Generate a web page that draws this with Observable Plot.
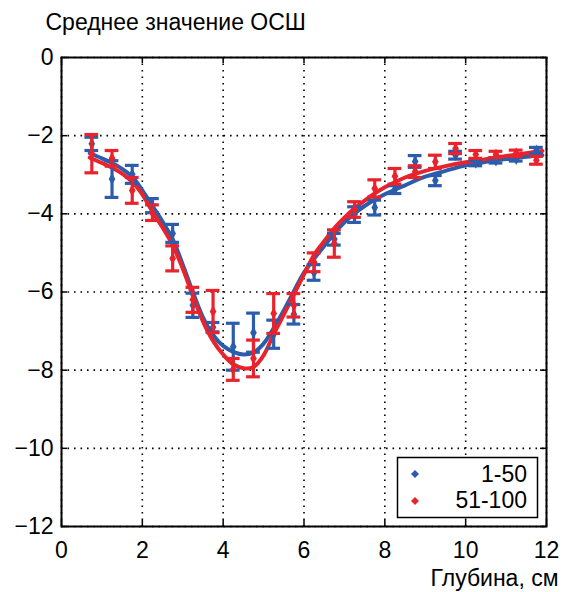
<!DOCTYPE html>
<html><head><meta charset="utf-8">
<script src="https://cdn.jsdelivr.net/npm/d3@7"></script>
<script src="https://cdn.jsdelivr.net/npm/@observablehq/plot@0.6"></script>
<style>
body{margin:0;background:#fff;}
#wrap{position:relative;width:563px;height:592px;font-family:"Liberation Sans",Arial,sans-serif;}
#legend{position:absolute;left:0;top:0;pointer-events:none;}
</style></head><body><div id="wrap"></div>
<script>
// ---- data ----
const xTicks = [0, 2, 4, 6, 8, 10, 12];
const yTicks = [0, -2, -4, -6, -8, -10, -12];
const seriesNames = ["1-50", "51-100"];
const titleText = "Среднее значение ОСШ";
const xLabelText = "Глубина, см";

const depth = [0.75, 1.25, 1.75, 2.25, 2.75, 3.25, 3.75, 4.25, 4.75, 5.25, 5.75, 6.25,
               6.75, 7.25, 7.75, 8.25, 8.75, 9.25, 9.75, 10.25, 10.75, 11.25, 11.75];
const blueMean = [-2.21, -3.11, -2.99, -3.79, -4.5, -6.34, -6.9, -7.4, -7.04, -7.08, -6.57, -5.5,
                  -4.65, -4.02, -3.84, -3.38, -2.66, -3.15, -2.5, -2.7, -2.64, -2.6, -2.38];
const blueErr  = [0.17, 0.47, 0.23, 0.18, 0.23, 0.31, 0.12, 0.6, 0.5, 0.36, 0.25, 0.2,
                  0.15, 0.2, 0.19, 0.1, 0.15, 0.13, 0.1, 0.07, 0.06, 0.05, 0.08];
const redMean  = [-2.46, -2.58, -3.4, -3.97, -5.14, -6.2, -6.5, -7.98, -7.7, -6.55, -6.34, -5.24,
                  -4.76, -3.89, -3.35, -3.04, -2.92, -2.67, -2.33, -2.48, -2.48, -2.45, -2.63];
const redErr   = [0.49, 0.2, 0.33, 0.2, 0.32, 0.32, 0.54, 0.28, 0.47, 0.51, 0.3, 0.24,
                  0.35, 0.2, 0.22, 0.2, 0.15, 0.17, 0.13, 0.1, 0.08, 0.08, 0.1];

const fitX = [0.7, 1.0, 1.25, 1.5, 1.75, 2.0, 2.25, 2.5, 2.75, 3.0, 3.25, 3.5, 3.75, 4.0, 4.25,
              4.5, 4.75, 5.0, 5.25, 5.5, 5.75, 6.0, 6.25, 6.5, 6.75, 7.0, 7.25, 7.5, 7.75, 8.0,
              8.5, 9.0, 9.5, 10.0, 10.5, 11.0, 11.5, 11.9];
const blueFit = [-2.45, -2.58, -2.7, -2.85, -3.05, -3.4, -3.8, -4.2, -4.65, -5.3, -6.0, -6.65, -7.1, -7.38, -7.53,
                 -7.6, -7.55, -7.32, -6.92, -6.47, -5.98, -5.5, -5.15, -4.82, -4.5, -4.22, -3.99, -3.8, -3.64, -3.5,
                 -3.27, -3.05, -2.9, -2.76, -2.67, -2.6, -2.54, -2.5];
const redFit  = [-2.56, -2.7, -2.82, -2.97, -3.18, -3.5, -3.95, -4.35, -4.8, -5.4, -6.1, -6.75, -7.25, -7.6, -7.85,
                 -7.95, -7.92, -7.62, -7.08, -6.58, -6.06, -5.55, -5.05, -4.7, -4.37, -4.1, -3.86, -3.66, -3.48, -3.32,
                 -3.07, -2.9, -2.78, -2.68, -2.6, -2.52, -2.45, -2.39];

const blueColor = "#2c5dad";
const redColor = "#e8232c";

// ---- tables ----
const pts = (mean, err) => depth.map((x, i) => ({x, y: mean[i], e: err[i]}));
const bluePts = pts(blueMean, blueErr);
const redPts = pts(redMean, redErr);
const blueLine = fitX.map((x, i) => ({x, y: blueFit[i]}));
const redLine = fitX.map((x, i) => ({x, y: redFit[i]}));

const cap = 0.17;
const errMarks = (data, color) => [
  Plot.ruleX(data, {x: "x", y1: d => d.y - d.e, y2: d => d.y + d.e, stroke: color, strokeWidth: 3.2}),
  Plot.ruleY(data, {y: d => d.y + d.e, x1: d => d.x - cap, x2: d => d.x + cap, stroke: color, strokeWidth: 3.2}),
  Plot.ruleY(data, {y: d => d.y - d.e, x1: d => d.x - cap, x2: d => d.x + cap, stroke: color, strokeWidth: 3.2}),
  Plot.dot(data, {x: "x", y: "y", symbol: "diamond", r: 3.5, fill: color})
];

const gridStyle = {stroke: "#000", strokeOpacity: 1, strokeWidth: 1.6, strokeDasharray: "1.6,4.9"};
const frameW = 563 - 61 - 17, frameH = 592 - 57 - 66, tick = 6;
const FS = 23;

const chart = Plot.plot({
  width: 563, height: 592,
  marginLeft: 61, marginRight: 17, marginTop: 57, marginBottom: 66,
  style: {fontFamily: "'Liberation Sans', Arial, sans-serif", fontSize: FS + "px", background: "#fff", color: "#000"},
  x: {domain: [0, 12]},
  y: {domain: [-12, 0]},
  marks: [
    Plot.gridX(xTicks, gridStyle),
    Plot.gridY(yTicks, gridStyle),
    Plot.tickX(xTicks, {x: d => d, stroke: "#000", strokeWidth: 1.5, insetTop: frameH - tick}),
    Plot.tickX(xTicks, {x: d => d, stroke: "#000", strokeWidth: 1.5, insetBottom: frameH - tick}),
    Plot.tickY(yTicks, {y: d => d, stroke: "#000", strokeWidth: 1.5, insetRight: frameW - tick}),
    Plot.tickY(yTicks, {y: d => d, stroke: "#000", strokeWidth: 1.5, insetLeft: frameW - tick}),
    Plot.axisX(xTicks, {tickSize: 0, tickPadding: 15, label: null, tickFormat: d => String(d), fontSize: FS}),
    Plot.axisY(yTicks, {tickSize: 0, tickPadding: 8, label: null, tickFormat: d => d === 0 ? "0" : "\u2212" + Math.abs(d), fontSize: FS}),
    Plot.line(blueLine, {x: "x", y: "y", stroke: blueColor, strokeWidth: 4, curve: "catmull-rom"}),
    Plot.line(redLine, {x: "x", y: "y", stroke: redColor, strokeWidth: 4, curve: "catmull-rom"}),
    ...errMarks(bluePts, blueColor),
    ...errMarks(redPts, redColor),
    Plot.frame({stroke: "#000", strokeWidth: 2}),
    Plot.text([titleText], {frameAnchor: "top-left", text: d => d, dx: -16, dy: -35, textAnchor: "start", lineAnchor: "middle", fontSize: FS}),
    Plot.text([xLabelText], {frameAnchor: "bottom-right", text: d => d, dx: 12, dy: 52, textAnchor: "end", lineAnchor: "middle", fontSize: FS})
  ]
});
const wrap = document.getElementById("wrap");
wrap.appendChild(chart);

// ---- legend overlay ----
const ns = "http://www.w3.org/2000/svg";
const lg = document.createElementNS(ns, "svg");
lg.setAttribute("id", "legend");
lg.setAttribute("width", 563);
lg.setAttribute("height", 592);
const box = document.createElementNS(ns, "rect");
box.setAttribute("x", 397.5); box.setAttribute("y", 457.5);
box.setAttribute("width", 140); box.setAttribute("height", 60);
box.setAttribute("fill", "#fff"); box.setAttribute("stroke", "#000"); box.setAttribute("stroke-width", 1.5);
lg.appendChild(box);
[[blueColor, 474, 482], [redColor, 501, 508]].forEach(([c, cy, base], i) => {
  const dm = document.createElementNS(ns, "path");
  dm.setAttribute("d", `M415,${cy - 4}L419,${cy}L415,${cy + 4}L411,${cy}Z`);
  dm.setAttribute("fill", c);
  lg.appendChild(dm);
  const t = document.createElementNS(ns, "text");
  t.setAttribute("x", 527); t.setAttribute("y", base);
  t.setAttribute("text-anchor", "end");
  t.setAttribute("font-family", "'Liberation Sans', Arial, sans-serif");
  t.setAttribute("font-size", FS);
  t.textContent = seriesNames[i];
  lg.appendChild(t);
});
wrap.appendChild(lg);
</script>
</body></html>
